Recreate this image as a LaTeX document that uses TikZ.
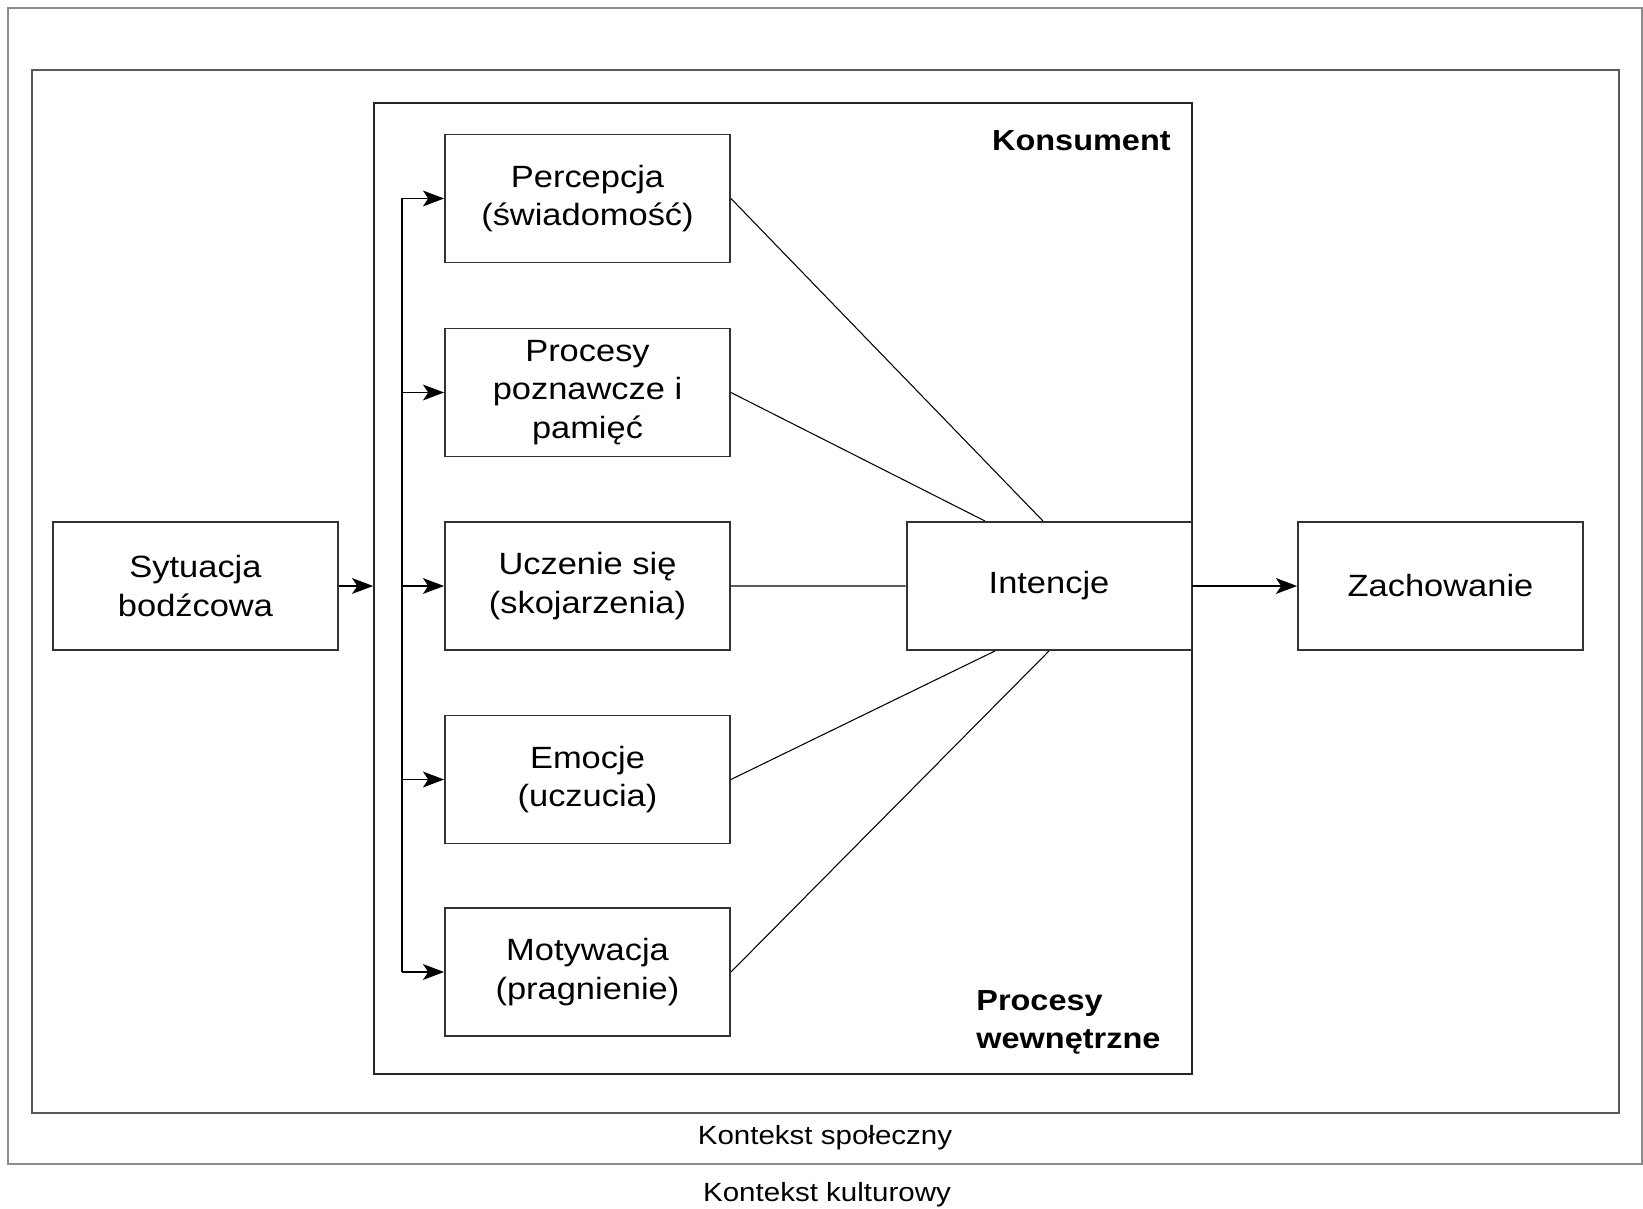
\documentclass[tikz,border=0pt]{standalone}
\usepackage{fontspec}
\setmainfont{Liberation Sans}[FakeStretch=1.12]
\usetikzlibrary{arrows.meta}

\tikzset{
  box/.style={draw=black!80,line width=1.1pt,minimum width=5.7cm,minimum height=2.56cm,
              inner sep=0pt,align=center,font=\fontsize{17.5}{22}\selectfont},
  link/.style={line width=0.6pt},
  feed/.style={line width=0.9pt,-{Stealth[length=12pt,width=9pt,inset=3pt]}},
  tag/.style={inner sep=0pt,font=\bfseries\fontsize{16.5}{21.6}\selectfont},
  ctx/.style={inner sep=0pt,font=\fontsize{15}{18}\selectfont}
}

\begin{document}
\begin{tikzpicture}[x=0.02cm,y=-0.02cm]
\useasboundingbox (0,0) rectangle (1643,1209);
\draw[black!45,line width=1.1pt] (8,8) rectangle (1642,1164);
\draw[black!65,line width=1.4pt] (32,70) rectangle (1619,1113);
\node[draw=black!85,line width=1.1pt,minimum width=16.36cm,minimum height=19.42cm]
      (cons)     at ( 783  , 588.5) {};
\path
      ( 195.5, 586  ) node [box] (sit)      {Sytuacja\\bodźcowa}
      ( 587.5, 198.5) node [box] (percep)   {Percepcja\\(świadomość)}
      ( 587.5, 392.5) node [box] (procesy)  {Procesy\\poznawcze i\\pamięć}
      ( 587.5, 586  ) node [box] (uczenie)  {Uczenie się\\(skojarzenia)}
      ( 587.5, 779.5) node [box] (emocje)   {Emocje\\(uczucia)}
      ( 587.5, 972  ) node [box] (motyw)    {Motywacja\\(pragnienie)}
      (1049  , 586  ) node [box] (intencje) {Intencje}
      (1440.5, 586  ) node [box] (zach)     {Zachowanie};
\path
      (1171  , 141  ) node [tag,anchor=east] (konsument) {Konsument}
      ( 976  ,1022  ) node [tag,anchor=west,align=left] (wewn) {Procesy\\wewnętrzne}
      ( 825  ,1138  ) node [ctx] (spol) {Kontekst społeczny}
      ( 827  ,1195  ) node [ctx] (kult) {Kontekst kulturowy};
% bus and arrows
\draw[line width=0.9pt] (percep.west -| 402,0) -- (motyw.west -| 402,0);
\foreach \b in {percep,procesy,uczenie,emocje,motyw}
  \draw[feed] (\b.west -| 402,0) -- (\b.west);
\draw[feed] (sit.east) -- (sit.east -| cons.west);
\draw[feed] (intencje.east) -- (zach.west);
% links to Intencje
\draw[link]
    (percep.east)  -- ([xshift=-0.12cm]intencje.north)
    (procesy.east) -- ([xshift=-1.28cm]intencje.north)
    (uczenie.east) -- (intencje.west)
    (emocje.east)  -- ([xshift=-1.08cm]intencje.south)
    (motyw.east)   -- (intencje.south);
\end{tikzpicture}
\end{document}
